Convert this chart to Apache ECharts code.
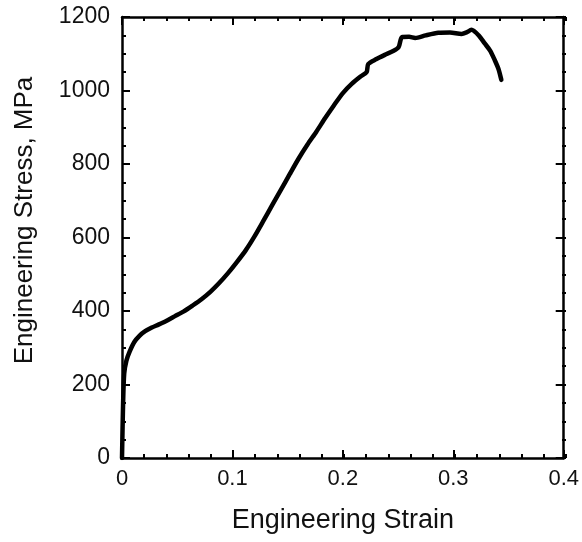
<!DOCTYPE html>
<html><head><meta charset="utf-8">
<script src="https://cdn.jsdelivr.net/npm/echarts@6/dist/echarts.min.js"></script>
<style>html,body{margin:0;padding:0;background:#fff}#c{width:582px;height:542px}</style>
</head><body><div id="c"></div>
<script>
const strain = [0, 0.001, 0.002, 0.004, 0.007, 0.011, 0.016, 0.021, 0.027, 0.033, 0.040, 0.048, 0.056, 0.064, 0.072, 0.080, 0.088, 0.096, 0.104, 0.112, 0.120, 0.128, 0.136, 0.144, 0.152, 0.160, 0.168, 0.176, 0.184, 0.192, 0.200, 0.208, 0.216, 0.2215, 0.2230, 0.2300, 0.2380, 0.2460, 0.2505, 0.2535, 0.2600, 0.2655, 0.2750, 0.2865, 0.2970, 0.3075, 0.3120, 0.3165, 0.3230, 0.3285, 0.3335, 0.3375, 0.3410, 0.3435];
const stress = [0, 150, 230, 265, 290, 315, 333, 345, 355, 363, 373, 386, 399, 415, 432, 452, 476, 503, 533, 565, 603, 645, 688, 730, 773, 815, 853, 888, 925, 960, 993, 1018, 1038, 1050, 1072, 1085, 1097, 1108, 1118, 1145, 1146, 1143, 1150, 1157, 1158, 1154, 1158, 1165, 1150, 1128, 1108, 1083, 1058, 1029];
const xTicks = [0, 0.1, 0.2, 0.3, 0.4];
const yTicks = [0, 200, 400, 600, 800, 1000, 1200];

const font = 'Liberation Sans, Arial, sans-serif';
const gridRect = {left: 122, right: 16, top: 17, bottom: 84, containLabel: false};
const majorAxis = {
  axisLine: {show: true, onZero: false, lineStyle: {color: '#000', width: 2.5}},
  axisTick: {show: true, inside: true, length: 8, lineStyle: {color: '#000', width: 2}},
  splitLine: {show: false}
};
const minorAxis = {
  axisLine: {show: false, onZero: false},
  axisTick: {show: true, inside: true, length: 4, lineStyle: {color: '#000', width: 2}},
  axisLabel: {show: false},
  splitLine: {show: false}
};
const xMin = xTicks[0], xMax = xTicks[xTicks.length - 1];
const yMin = yTicks[0], yMax = yTicks[yTicks.length - 1];
const chart = echarts.init(document.getElementById('c'), null, {renderer: 'canvas'});
chart.setOption({
  animation: false,
  grid: [Object.assign({}, gridRect), Object.assign({}, gridRect)],
  xAxis: [
    Object.assign({}, majorAxis, {
      gridIndex: 0, type: 'value', min: xMin, max: xMax, interval: 0.1,
      name: 'Engineering Strain', nameLocation: 'middle', nameGap: 49,
      nameTextStyle: {fontFamily: font, fontSize: 27, color: '#111'},
      axisLabel: {fontFamily: font, fontSize: 22, color: '#111', margin: 10,
        formatter: v => String(Math.round(v * 10) / 10)}
    }),
    Object.assign({}, majorAxis, {
      gridIndex: 0, type: 'value', position: 'top', min: xMin, max: xMax, interval: 0.1,
      axisLabel: {show: false}
    }),
    Object.assign({}, minorAxis, {gridIndex: 1, type: 'value', position: 'bottom', min: xMin, max: xMax, interval: 0.02}),
    Object.assign({}, minorAxis, {gridIndex: 1, type: 'value', position: 'top', min: xMin, max: xMax, interval: 0.02})
  ],
  yAxis: [
    Object.assign({}, majorAxis, {
      gridIndex: 0, type: 'value', min: yMin, max: yMax, interval: 200,
      name: 'Engineering Stress, MPa', nameLocation: 'middle', nameGap: 84, nameRotate: 90,
      nameTextStyle: {fontFamily: font, fontSize: 26, color: '#111', padding: [0, 0, 0, 34]},
      axisLabel: {fontFamily: font, fontSize: 23, color: '#111', margin: 12, formatter: v => String(v)}
    }),
    Object.assign({}, majorAxis, {
      gridIndex: 0, type: 'value', position: 'right', min: yMin, max: yMax, interval: 200,
      axisLabel: {show: false}
    }),
    Object.assign({}, minorAxis, {gridIndex: 1, type: 'value', position: 'left', min: yMin, max: yMax, interval: 50}),
    Object.assign({}, minorAxis, {gridIndex: 1, type: 'value', position: 'right', min: yMin, max: yMax, interval: 50})
  ],
  series: [{
    type: 'line', xAxisIndex: 0, yAxisIndex: 0,
    data: strain.map((s, i) => [s, stress[i]]),
    showSymbol: false, smooth: 0.25,
    lineStyle: {color: '#000', width: 4.5, cap: 'round', join: 'round'}
  }]
});
</script></body></html>
